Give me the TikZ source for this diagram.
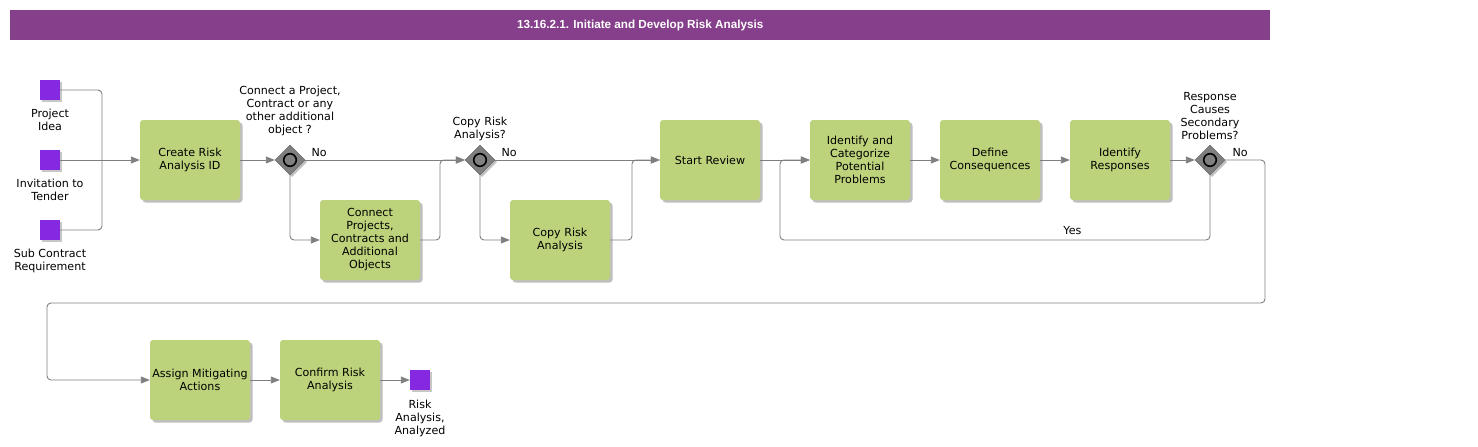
\documentclass[tikz,border=0pt]{standalone}
\usepackage{fontspec}
\setmainfont{DejaVu Sans}
\newfontfamily\titlefont{Liberation Sans}
\usetikzlibrary{arrows.meta,shapes.geometric,shadows}
\definecolor{taskgreen}{HTML}{BDD37B}
\definecolor{evpurple}{HTML}{8429E0}
\definecolor{titlepurple}{HTML}{853F8B}
\definecolor{lnk}{HTML}{7F7F7F}
\definecolor{gwfill}{HTML}{808080}
\begin{document}
\begin{tikzpicture}[x=1pt,y=-1pt,
  txt/.style={font=\fontsize{11.1}{13}\selectfont, align=center, inner sep=0pt},
  task/.style={txt, rectangle, rounded corners=3pt, fill=taskgreen, minimum width=100pt, minimum height=80pt, inner sep=1pt,
    drop shadow={shadow xshift=2.5pt, shadow yshift=-2.5pt, fill=black, opacity=0.25}},
  event/.style={rectangle, fill=evpurple, minimum size=20pt, inner sep=0pt,
    drop shadow={shadow xshift=1.5pt, shadow yshift=-1.5pt, fill=black, opacity=0.22}},
  gateway/.style={diamond, fill=gwfill, draw=gwfill!70!black, minimum width=30pt, minimum height=30pt, inner sep=0pt,
    drop shadow={shadow xshift=2pt, shadow yshift=-2pt, fill=black, opacity=0.25}},
  gwring/.style={fill=gwfill, draw=black, line width=1.6pt},
  conn/.style={draw=lnk, line width=0.9pt, rounded corners=4pt, -{Triangle[length=9pt,width=7pt]}},
  line/.style={draw=lnk, line width=0.9pt, rounded corners=4pt},
  evlabel/.style={txt, anchor=north},
  qlabel/.style={txt, anchor=south},
  flowlabel/.style={txt}
]
\useasboundingbox (0,0) rectangle (1478,447);

% title
\node[fill=titlepurple, minimum width=1260pt, minimum height=30pt, inner sep=0pt, anchor=north west] (title) at (10,10) {};
\node[text=white, font=\titlefont\bfseries\fontsize{11.7}{13}\selectfont, inner sep=0pt] (titletext) at (title.center) {13.16.2.1. Initiate and Develop Risk Analysis};

% events
\node[event] (pi) at (50,90) {};
\node[event] (it) at (50,160) {};
\node[event] (sc) at (50,230) {};
\node[event] (ra) at (420,380) {};
\node[evlabel] (pil) at ([yshift=-8.5pt]pi.south) {Project\\Idea};
\node[evlabel] (itl) at ([yshift=-8.5pt]it.south) {Invitation to\\Tender};
\node[evlabel] (scl) at ([yshift=-8.5pt]sc.south) {Sub Contract\\Requirement};
\node[evlabel] (ral) at ([yshift=-9.5pt]ra.south) {Risk\\Analysis,\\Analyzed};

% tasks
\node[task] (cr) at (190,160) {Create Risk\\Analysis ID};
\node[task] (cp) at (370,240) {Connect\\Projects,\\Contracts and\\Additional\\Objects};
\node[task] (cy) at (560,240) {Copy Risk\\Analysis};
\node[task] (sr) at (710,160) {Start Review};
\node[task] (ic) at (860,160) {Identify and\\Categorize\\Potential\\Problems};
\node[task] (dc) at (990,160) {Define\\Consequences};
\node[task] (ir) at (1120,160) {Identify\\Responses};
\node[task] (am) at (200,380) {Assign Mitigating\\Actions};
\node[task] (cf) at (330,380) {Confirm Risk\\Analysis};

% gateways
\node[gateway] (g1) at (290,160) {};
\node[gateway] (g2) at (480,160) {};
\node[gateway] (g3) at (1210,160) {};
\foreach \g in {g1,g2,g3} \draw[gwring] (\g.center) circle (6.3pt);
\node[qlabel] (g1l) at ([yshift=8.5pt]g1.north) {Connect a Project,\\Contract or any\\other additional\\object ?};
\node[qlabel] (g2l) at ([yshift=4pt]g2.north) {Copy Risk\\Analysis?};
\node[qlabel] (g3l) at ([yshift=5pt]g3.north) {Response\\Causes\\Secondary\\Problems?};

% bend coordinates
\coordinate (j0) at (102,160);
\coordinate (j1) at (440,160);
\coordinate (j2) at (632,160);
\coordinate (yb) at (780,240);
\coordinate (r1) at (1265,303);
\coordinate (l1) at (47,303);

% connectors
\draw[line] (pi.east) -| (j0);
\draw[line] (sc.east) -| (j0);
\draw[conn] (it.east) -- (cr.west);
\draw[conn] (cr.east) -- (g1.west);
\draw[conn] (g1.east) -- node[flowlabel, pos=0.0, anchor=south west, xshift=6pt, yshift=3pt] {No} (g2.west);
\draw[conn] (g1.south) |- (cp.west);
\draw[conn] (cp.east) -| (j1) -- (g2.west);
\draw[conn] (g2.east) -- node[flowlabel, pos=0.0, anchor=south west, xshift=6pt, yshift=3pt] {No} (sr.west);
\draw[conn] (g2.south) |- (cy.west);
\draw[conn] (cy.east) -| (j2) -- (sr.west);
\draw[conn] (sr.east) -- (ic.west);
\draw[conn] (ic.east) -- (dc.west);
\draw[conn] (dc.east) -- (ir.west);
\draw[conn] (ir.east) -- (g3.west);
\draw[conn] (g3.south) |- node[flowlabel, pos=0.66, above=5pt] {Yes} (yb) |- (ic.west);
\draw[conn] (g3.east) -| node[flowlabel, pos=0.0, anchor=south west, xshift=7pt, yshift=3pt] {No} (r1) -- (l1) |- (am.west);
\draw[conn] (am.east) -- (cf.west);
\draw[conn] (cf.east) -- (ra.west);
\end{tikzpicture}
\end{document}
